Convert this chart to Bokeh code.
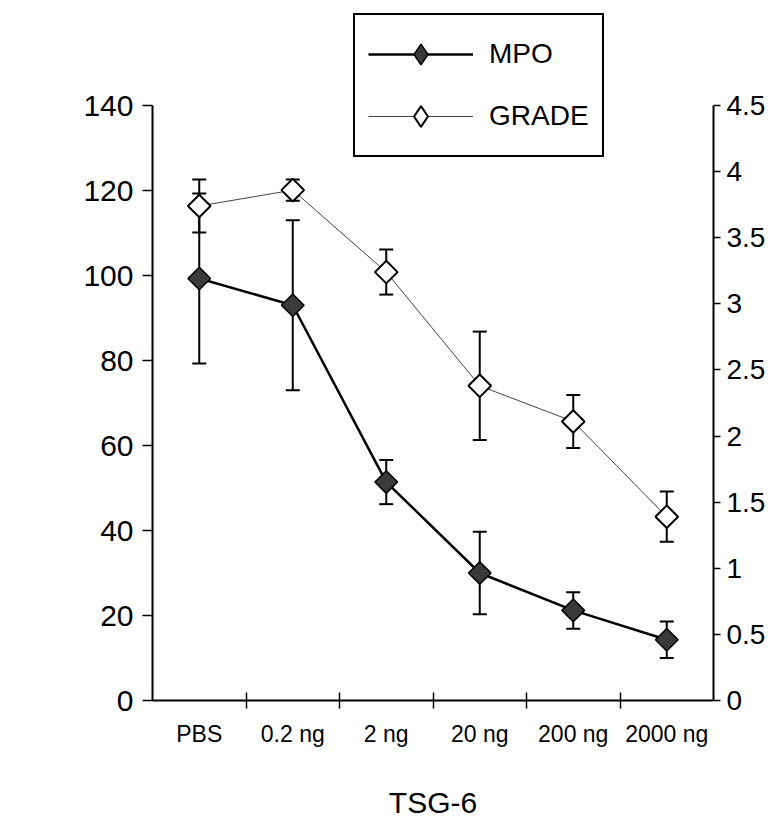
import math
from bokeh.plotting import figure
from bokeh.models import (Range1d, LinearAxis, FixedTicker, Whisker, TeeHead,
                          ColumnDataSource, Legend, LegendItem, Label)
from bokeh.core.properties import value
from bokeh.embed import file_html
from bokeh.resources import INLINE

categories = ["PBS", "0.2 ng", "2 ng", "20 ng", "200 ng", "2000 ng"]
mpo = [99.3, 93.0, 51.4, 30.0, 21.2, 14.3]
mpo_err = [20.0, 20.0, 5.2, 9.7, 4.3, 4.3]
grade = [3.74, 3.86, 3.24, 2.38, 2.11, 1.39]
grade_err = [0.20, 0.08, 0.17, 0.41, 0.20, 0.19]
left_ticks = [0, 20, 40, 60, 80, 100, 120, 140]
right_ticks = [0, 0.5, 1, 1.5, 2, 2.5, 3, 3.5, 4, 4.5]

FONT = "Liberation Sans"
xs = list(range(1, len(categories) + 1))

src = ColumnDataSource(dict(
    x=xs, mpo=mpo, grade=grade,
    mpo_lo=[m - e for m, e in zip(mpo, mpo_err)],
    mpo_hi=[m + e for m, e in zip(mpo, mpo_err)],
    g_lo=[g - e for g, e in zip(grade, grade_err)],
    g_hi=[g + e for g, e in zip(grade, grade_err)],
))

ytop = 163.53
p = figure(width=770, height=827, x_range=Range1d(0.5, 6.5), y_range=Range1d(0, ytop),
           output_backend="svg", toolbar_location=None,
           x_axis_location=None, y_axis_location=None,
           min_border_left=152, min_border_right=57, min_border_top=5, min_border_bottom=127)
p.outline_line_color = None
for g in p.grid:
    g.visible = False
p.extra_y_ranges = {"grade": Range1d(0, ytop / 140 * 4.5)}

# bottom axis
xax = LinearAxis(ticker=FixedTicker(ticks=xs, minor_ticks=[1.5, 2.5, 3.5, 4.5, 5.5]))
xax.major_label_overrides = {i: c for i, c in zip(xs, categories)}
xax.major_tick_in = 0
xax.major_tick_out = 0
xax.minor_tick_in = 8
xax.minor_tick_out = 8
xax.minor_tick_line_width = 1.5
xax.minor_tick_line_color = "black"
xax.axis_line_width = 2
xax.major_label_standoff = 12
xax.major_label_text_font = FONT
xax.major_label_text_font_size = "23px"
xax.major_label_text_color = "black"
xax.axis_label = "TSG-6"
xax.axis_label_text_font = FONT
xax.axis_label_text_font_size = "30px"
xax.axis_label_text_font_style = "normal"
xax.axis_label_text_color = "black"
xax.axis_label_standoff = 36
p.add_layout(xax, "below")

# left axis
lax = LinearAxis(ticker=FixedTicker(ticks=left_ticks), bounds=(0, 140))
lax.major_tick_in = 0
lax.major_tick_out = 10
lax.major_tick_line_width = 1.5
lax.minor_tick_line_color = None
lax.axis_line_width = 2
lax.major_label_standoff = 9
lax.major_label_text_font = FONT
lax.major_label_text_font_size = "30px"
lax.major_label_text_color = "black"
p.add_layout(lax, "left")

# right axis
rax = LinearAxis(y_range_name="grade", ticker=FixedTicker(ticks=right_ticks), bounds=(0, 4.5))
rax.major_tick_in = 0
rax.major_tick_out = 7
rax.major_tick_line_width = 1.5
rax.minor_tick_line_color = None
rax.axis_line_width = 2
rax.major_label_standoff = 6
rax.major_label_text_font = FONT
rax.major_label_text_font_size = "28px"
rax.major_label_text_color = "black"
p.add_layout(rax, "right")

# error bars
w1 = Whisker(base="x", upper="mpo_hi", lower="mpo_lo", source=src, line_width=2, line_color="black",
             upper_head=TeeHead(size=14, line_width=2), lower_head=TeeHead(size=14, line_width=2),
             level="underlay")
w2 = Whisker(base="x", upper="g_hi", lower="g_lo", source=src, line_width=2, line_color="black",
             y_range_name="grade",
             upper_head=TeeHead(size=14, line_width=2), lower_head=TeeHead(size=14, line_width=2),
             level="underlay")
p.add_layout(w1)
p.add_layout(w2)

l1 = p.line("x", "mpo", source=src, line_width=2.5, line_color="black")
s1 = p.scatter("x", "mpo", source=src, marker="square", angle=math.pi / 4, size=16,
               fill_color="#3a3a3a", line_color="black", line_width=1.5)
l2 = p.line("x", "grade", source=src, y_range_name="grade", line_width=1, line_color="#444444")
s2 = p.scatter("x", "grade", source=src, y_range_name="grade", marker="square", angle=math.pi / 4,
               size=16, fill_color="white", line_color="black", line_width=2)

# legend-only diamond markers (legend glyphs are drawn unrotated)
d1 = p.scatter("x", "mpo", source=src, marker="diamond", fill_color="#3a3a3a",
               line_color="black", line_width=1.5, visible=False)
d2 = p.scatter("x", "grade", source=src, y_range_name="grade", marker="diamond",
               fill_color="white", line_color="black", line_width=2, visible=False)

ylab = Label(x=0.5 - (152 - 33) / 93.5, y=64.5, text="MPO (ng/ml)", angle=math.pi / 2,
             text_align="center", text_baseline="middle", text_font=FONT,
             text_font_size="28px", text_color="black")
p.add_layout(ylab)

legend = Legend(items=[LegendItem(label=value("MPO"), renderers=[l1, d1]),
                       LegendItem(label=value("GRADE"), renderers=[l2, d2])],
                location=(201, 543), border_line_color="black", border_line_width=2,
                border_line_alpha=1,
                padding=13, spacing=10, glyph_width=105, glyph_height=52, label_standoff=16,
                label_text_font=FONT, label_text_font_size="28px", label_text_color="black",
                inactive_fill_alpha=0,
                margin=0, background_fill_color="white", background_fill_alpha=1)
p.add_layout(legend)

open("out.html", "w").write(file_html(p, INLINE))
